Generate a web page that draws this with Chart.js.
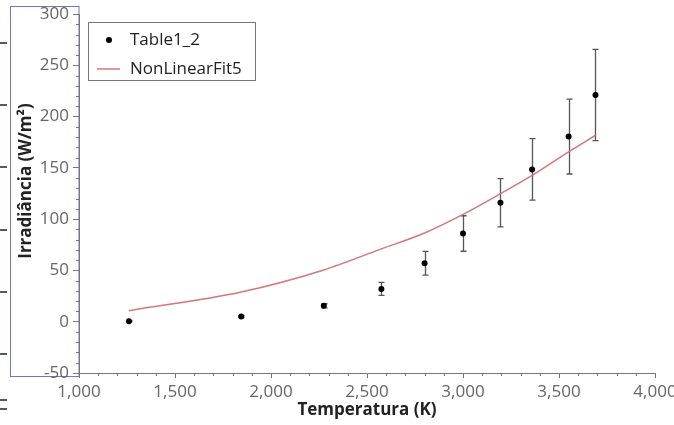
<!DOCTYPE html>
<html>
<head>
<meta charset="utf-8">
<script src="https://cdn.jsdelivr.net/npm/chart.js@4"></script>
<style>
  body { margin: 0; background: #fff; }
  canvas { display: block; }
</style>
</head>
<body>
<canvas id="chart" width="674" height="425"></canvas>
<script>
// Data
const temperatures = [1260, 1845, 2275, 2575, 2800, 3000, 3195, 3360, 3550, 3690];
const irradiance = [0.5, 5, 15.5, 32, 57, 86, 116, 148.5, 180.5, 221];
const irradianceErr = [0.3, 1, 2, 6.3, 11.5, 17.3, 23.5, 30, 36.5, 44.5];
const fitValues = [10.8, 29, 50.5, 71, 86.5, 104.6, 124.8, 142.7, 165.5, 181.8];

const seriesLabels = ["Table1_2", "NonLinearFit5"];
const xTickStep = 500;
const yTickStep = 50;

const FONT = "'Open Sans', 'Noto Sans', sans-serif";
const AXIS_COLOR = "#777";
const FIT_COLOR = "#d47777";

// Extra drawing: error bars, minor ticks, legend box, y title, stray marks
const decorPlugin = {
    id: "decor",
    beforeDraw(chart) {
        const ctx = chart.ctx;
        ctx.save();
        // selection frame left over in the screenshot
        ctx.strokeStyle = "#7474c0";
        ctx.lineWidth = 1;
        ctx.strokeRect(10.5, 6.5, 68.5, 370);
        // stray tick marks at the left edge
        ctx.strokeStyle = "#222";
        ctx.lineWidth = 1.5;
        [43, 105, 167, 230, 292, 354, 400, 409].forEach(y => {
            ctx.beginPath();
            ctx.moveTo(0, y);
            ctx.lineTo(7, y);
            ctx.stroke();
        });
        ctx.restore();
    },
    beforeDatasetsDraw(chart) {
        const ctx = chart.ctx;
        const xs = chart.scales.x, ys = chart.scales.y;
        ctx.save();
        ctx.strokeStyle = "#555";
        ctx.lineWidth = 1.3;
        temperatures.forEach((t, i) => {
            const px = Math.round(xs.getPixelForValue(t)) + 0.5;
            const top = ys.getPixelForValue(irradiance[i] + irradianceErr[i]);
            const bot = ys.getPixelForValue(irradiance[i] - irradianceErr[i]);
            ctx.beginPath();
            ctx.moveTo(px, top); ctx.lineTo(px, bot);
            ctx.moveTo(px - 3, top); ctx.lineTo(px + 3, top);
            ctx.moveTo(px - 3, bot); ctx.lineTo(px + 3, bot);
            ctx.stroke();
        });
        ctx.restore();
    },
    afterDraw(chart) {
        const ctx = chart.ctx;
        const xs = chart.scales.x, ys = chart.scales.y;
        ctx.save();
        // minor ticks
        ctx.strokeStyle = AXIS_COLOR;
        ctx.lineWidth = 1;
        for (let v = xs.min; v <= xs.max; v += 100) {
            if (v % xTickStep === 0) continue;
            const px = Math.round(xs.getPixelForValue(v)) + 0.5;
            ctx.beginPath();
            ctx.moveTo(px, ys.bottom);
            ctx.lineTo(px, ys.bottom + 3);
            ctx.stroke();
        }
        for (let v = ys.min; v <= ys.max; v += 10) {
            if (v % yTickStep === 0) continue;
            const py = Math.round(ys.getPixelForValue(v)) + 0.5;
            ctx.beginPath();
            ctx.moveTo(xs.left, py);
            ctx.lineTo(xs.left - 3, py);
            ctx.stroke();
        }
        // y axis title
        ctx.save();
        ctx.translate(26, 181);
        ctx.rotate(-Math.PI / 2);
        ctx.fillStyle = "#222";
        ctx.font = "bold 17px " + FONT;
        ctx.textAlign = "center";
        ctx.textBaseline = "middle";
        ctx.fillText("Irradiância (W/m²)", 0, 0);
        ctx.restore();
        // legend box
        ctx.strokeStyle = "#777";
        ctx.lineWidth = 1;
        ctx.strokeRect(88.5, 22.5, 167, 58);
        ctx.fillStyle = "#000";
        ctx.beginPath();
        ctx.arc(109, 40, 3, 0, Math.PI * 2);
        ctx.fill();
        ctx.strokeStyle = FIT_COLOR;
        ctx.lineWidth = 1.5;
        ctx.beginPath();
        ctx.moveTo(97, 69);
        ctx.lineTo(120, 69);
        ctx.stroke();
        ctx.fillStyle = "#222";
        ctx.font = "17px " + FONT;
        ctx.textBaseline = "middle";
        ctx.fillText(seriesLabels[0], 130, 40);
        ctx.fillText(seriesLabels[1], 130, 69);
        ctx.restore();
    }
};

const ctx = document.getElementById("chart").getContext("2d");
new Chart(ctx, {
    type: "scatter",
    data: {
        datasets: [
            {
                label: seriesLabels[0],
                data: temperatures.map((t, i) => ({ x: t, y: irradiance[i] })),
                pointRadius: 3,
                pointBackgroundColor: "#000",
                pointBorderColor: "#000",
                pointBorderWidth: 0,
                showLine: false
            },
            {
                label: seriesLabels[1],
                data: temperatures.map((t, i) => ({ x: t, y: fitValues[i] })),
                showLine: true,
                pointRadius: 0,
                borderColor: FIT_COLOR,
                borderWidth: 1.5,
                cubicInterpolationMode: "monotone"
            }
        ]
    },
    options: {
        responsive: false,
        animation: false,
        layout: { padding: { top: 14, right: 19, left: 0, bottom: 0 } },
        plugins: {
            legend: { display: false },
            tooltip: { enabled: false }
        },
        scales: {
            x: {
                type: "linear",
                min: 1000,
                max: 4000,
                afterFit(scale) {
                    scale.height = 52;
                    scale.paddingLeft = 0;
                    scale.paddingRight = 0;
                },
                ticks: {
                    stepSize: xTickStep,
                    color: "#666",
                    padding: 4,
                    maxRotation: 0,
                    font: { family: FONT, size: 17 },
                    callback: v => v.toLocaleString("en-US")
                },
                grid: {
                    drawOnChartArea: false,
                    tickLength: 5,
                    color: AXIS_COLOR
                },
                border: { color: AXIS_COLOR, width: 1 },
                title: {
                    display: true,
                    text: "Temperatura (K)",
                    color: "#222",
                    font: { family: FONT, size: 17, weight: "bold" },
                    padding: { top: 0, bottom: 5 }
                }
            },
            y: {
                type: "linear",
                min: -50,
                max: 300,
                afterFit(scale) {
                    scale.width = 79;
                    scale.paddingTop = 0;
                    scale.paddingBottom = 0;
                },
                ticks: {
                    stepSize: yTickStep,
                    color: "#666",
                    padding: 4,
                    font: { family: FONT, size: 17 }
                },
                grid: {
                    drawOnChartArea: false,
                    tickLength: 6,
                    color: AXIS_COLOR
                },
                border: { color: AXIS_COLOR, width: 1 },
                title: { display: false }
            }
        }
    },
    plugins: [decorPlugin]
});
</script>
</body>
</html>
